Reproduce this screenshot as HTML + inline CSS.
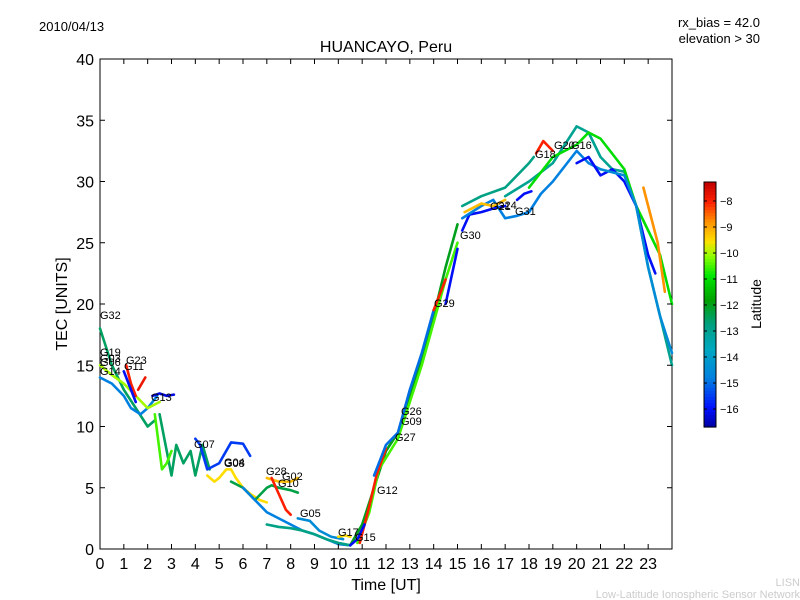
<!DOCTYPE html>
<html><head><meta charset="utf-8">
<style>
body{margin:0;background:#fff;}
svg{display:block;font-family:"Liberation Sans","DejaVu Sans",sans-serif;}
</style></head>
<body>
<svg id="chart" width="800" height="600" viewBox="0 0 800 600">
<rect width="800" height="600" fill="#fff"/>
<text x="39" y="31" font-size="13">2010/04/13</text>
<text x="760" y="27" font-size="13" text-anchor="end">rx_bias = 42.0</text>
<text x="760" y="43" font-size="13" text-anchor="end">elevation &gt; 30</text>
<text x="386" y="52" font-size="16" text-anchor="middle">HUANCAYO, Peru</text>
<g id="plot"></g>
<g id="axes"></g>
<text x="386" y="590" font-size="16" text-anchor="middle">Time [UT]</text>
<text transform="translate(67,304) rotate(-90)" font-size="16" text-anchor="middle">TEC [UNITS]</text>
<g id="cbar"></g>
<text transform="translate(761,304) rotate(-90)" font-size="14" text-anchor="middle">Latitude</text>
<text x="800" y="586" font-size="11" fill="#ccc" text-anchor="end">LISN</text>
<text x="800" y="598" font-size="11" fill="#ccc" text-anchor="end">Low-Latitude Ionospheric Sensor Network</text>
</svg>
<script>
const xTicks=[0,1,2,3,4,5,6,7,8,9,10,11,12,13,14,15,16,17,18,19,20,21,22,23];
const yTicks=[0,5,10,15,20,25,30,35,40];
const cbTicks=[-8,-9,-10,-11,-12,-13,-14,-15,-16];
const latMin=-16.69, latMax=-7.27;
const trackNames=["G32","G14","G19","G23","G11","G13","Gz1","Gy1","G07","G04","Gg1","G28","Gr1","Gc1","Gg2","G05","G17","Gg3","Gy2","G12","G15","G26","G29","Gb1","Gb2","Gc2","Go1","Gg4","G31","G18","Gg5","Gy3","Gb3","Go2","Gc3","Gr2"];
const trackTimes=[
[0,0.5,1,1.5,2,2.3],
[0,0.5,1,1.3,1.7,2,2.4],
[0,0.5,1,1.5,2,2.5],
[1.1,1.3,1.5],
[1,1.3,1.5],
[2.2,2.5,2.8,3.1],
[2.5,2.8,3,3.2,3.5,3.8,4,4.3,4.6],
[2.3,2.5,2.6,2.8,3],
[4,4.2,4.5,5,5.5,6,6.3],
[4.5,4.8,5,5.3,5.5,5.7,6,6.3,6.7,7],
[5.5,6,6.5,7,7.2,7.5,8,8.3],
[7,7.5,8,8.3],
[7.2,7.5,7.8,8],
[6,6.5,7,7.5,8,8.5,9,9.5,10,10.5],
[7,7.5,8,8.5,9,9.5,10,10.5],
[8.3,8.8,9.2,9.7,10.2],
[10,10.3,10.5],
[10.5,11,11.5,12,12.5,13,13.5,14,14.5,15],
[10.8,11.3,11.7,12.5,13,13.5,14,14.5,15],
[10.9,11.3,11.6,12],
[10.5,10.8,11.1],
[11.5,12,12.5,13,13.5,14],
[14,14.5],
[14.5,15],
[15.2,15.5,16,16.5,17],
[15.2,16,16.5,17,17.5,18,18.5,19,20,20.5,21],
[15.3,16,16.5,17],
[15.2,16,17,18,18.2],
[17.5,17.8,18.1],
[18.3,18.6,19],
[17,18,19,19.5,20,20.5,21,21.5,22,22.5,23,23.5,24],
[18,19,20,20.5,21,22,22.5,23,23.5,24],
[20,20.5,21,21.5,22,22.5,23,23.3],
[22.8,23,23.4,23.7],
[21,22,22.5,23,23.5,24],
[1.6,1.9]
];
const trackTec=[
[18,15,13,11.5,10,10.5],
[14,13.5,12.5,11.5,11,11.5,12.5],
[15,14.2,13.5,12.5,11.5,12],
[15,13.5,12.5],
[14.5,13,12],
[12.5,12.7,12.5,12.6],
[11,8,6,8.5,7,8,6,8.5,6.5],
[11,8,6.5,7,8],
[9,8.5,6.5,7,8.7,8.6,7.6],
[6,5.5,5.8,6.5,6.5,5.8,5,4.5,4,3.8],
[5.5,5,4,5,5.2,5,4.8,4.6],
[5.8,5.5,5.5,5.8],
[5.8,4.5,3.2,2.8],
[5,4,3,2.5,2,1.5,1.2,0.8,0.4,0.3],
[2,1.8,1.7,1.5,1.2,0.8,0.5,0.3],
[2.5,2.3,1.5,1,0.8],
[1,1.1,1],
[0.3,2,5,8,9.5,12.5,15.5,19,23,26.5],
[0.5,3,6.5,9,12,15,18.5,22,25],
[0.5,3.5,6,8.2],
[0.3,0.8,2],
[6,8.5,9.5,13,16,19.5],
[19.5,22],
[20,24.5],
[26,27.3,27.5,27.8,28],
[27,28,28.5,27,27.2,27.5,29,30,32.5,31.5,31],
[27.5,28.2,28,28.5],
[28,28.8,29.5,31.5,32],
[28.5,29,29.2],
[32.3,33.3,32.5],
[28.8,30,31.5,33,34.5,34,32,31,30.8,28,23,19,15],
[29.5,32,33,34,33.5,31,28,26,24,20],
[31.5,32,30.5,31,30,28,24,22.5],
[29.5,28,25,21],
[31,30.5,28,23,19,16],
[13,14]
];
const trackLat=[-12.5,-14.8,-10,-8,-16,-16.2,-12.5,-10.5,-15.5,-9.5,-12.3,-9.2,-8,-14.8,-12.8,-14.5,-9.5,-12,-10.5,-8,-16,-15,-8,-16,-16,-14.8,-9.2,-12.8,-16,-8,-13,-11,-16,-8.8,-14.5,-7.8];
const labelNames=["G32","G19","G03","G06","G14","G23","G11","G13","G07","G04","G08","G28","G02","G10","G05","G17","G15","G12","G26","G09","G27","G29","G30","G21","G24","G31","G18","G20","G16"];
const labelPos=[[100,319],[100,356],[100,362],[100,366],[100,375],[126,364],[124,370],[151,401],[194,448],[224,466],[224,467],[266,475],[282,480],[278,487],[300,517],[338,536],[355,541],[377,494],[401,415],[401,425],[395,441],[434,307],[460,239],[490,210],[496,209],[515,215],[535,158],[554,149],[571,149]];

const X0=100,X1=672,Y0=549,Y1=59;
const xs=t=>X0+(X1-X0)*t/24;
const ys=v=>Y0-(Y0-Y1)*v/40;
const NS="http://www.w3.org/2000/svg";
const cmStops=[0,0.08,0.2,0.32,0.42,0.52,0.62,0.7,0.76,0.84,0.92,1];
const cmCols=[[0,0,160],[0,16,255],[0,128,224],[0,168,192],[0,160,128],[0,160,0],[0,232,0],[144,255,0],[255,224,0],[255,144,0],[255,32,0],[192,0,0]];
function jet(f){f=Math.max(0,Math.min(1,f));
 let i=0;while(i<cmStops.length-2&&f>cmStops[i+1])i++;
 const a=(f-cmStops[i])/(cmStops[i+1]-cmStops[i]);
 const c=cmCols[i].map((v,k)=>Math.round(v+(cmCols[i+1][k]-v)*a));
 return `rgb(${c[0]},${c[1]},${c[2]})`;}
const latColor=l=>jet((l-latMin)/(latMax-latMin));
const plot=document.getElementById('plot');
const frame=document.createElementNS(NS,'rect');
frame.setAttribute('x',X0);frame.setAttribute('y',Y1);frame.setAttribute('width',X1-X0);frame.setAttribute('height',Y0-Y1);
frame.setAttribute('fill','#fff');frame.setAttribute('stroke','#000');


plot.appendChild(frame);
trackNames.forEach((n,i)=>{
 const p=document.createElementNS(NS,'polyline');
 p.setAttribute('points',trackTimes[i].map((t,j)=>xs(t)+','+ys(trackTec[i][j])).join(' '));
 p.setAttribute('fill','none');p.setAttribute('stroke',latColor(trackLat[i]));
 p.setAttribute('stroke-width','2.6');p.setAttribute('stroke-linejoin','round');p.setAttribute('stroke-linecap','round');
 
 
 plot.appendChild(p);
});
labelNames.forEach((n,i)=>{
 const t=document.createElementNS(NS,'text');
 t.setAttribute('x',labelPos[i][0]);t.setAttribute('y',labelPos[i][1]);t.setAttribute('font-size','11');
 t.textContent=n;
 
 
 plot.appendChild(t);
});
const axes=document.getElementById('axes');
xTicks.forEach(v=>{
 const x=xs(v);
 const l=document.createElementNS(NS,'path');
 l.setAttribute('d',`M${x},${Y0}v-5M${x},${Y1}v5`);l.setAttribute('stroke','#000');
 
 
 axes.appendChild(l);
 const t=document.createElementNS(NS,'text');
 t.setAttribute('x',x);t.setAttribute('y',Y0+20);t.setAttribute('font-size','16');t.setAttribute('text-anchor','middle');
 t.textContent=v;
 
 
 axes.appendChild(t);
});
yTicks.forEach(v=>{
 const y=ys(v);
 const l=document.createElementNS(NS,'path');
 l.setAttribute('d',`M${X0},${y}h5M${X1},${y}h-5`);l.setAttribute('stroke','#000');
 
 
 axes.appendChild(l);
 const t=document.createElementNS(NS,'text');
 t.setAttribute('x',X0-6);t.setAttribute('y',y+6);t.setAttribute('font-size','16');t.setAttribute('text-anchor','end');
 t.textContent=v;
 
 
 axes.appendChild(t);
});
const cb=document.getElementById('cbar');
const CY0=427,CY1=182,CX=704,CW=12;
for(let k=0;k<80;k++){
 const r=document.createElementNS(NS,'rect');
 const y=CY0-(k+1)*(CY0-CY1)/80;
 r.setAttribute('x',CX);r.setAttribute('y',y);r.setAttribute('width',CW);r.setAttribute('height',(CY0-CY1)/80+0.6);
 r.setAttribute('fill',jet((k+0.5)/80));
 
 
 cb.appendChild(r);
}
const cf=document.createElementNS(NS,'rect');
cf.setAttribute('x',CX);cf.setAttribute('y',CY1);cf.setAttribute('width',CW);cf.setAttribute('height',CY0-CY1);
cf.setAttribute('fill','none');cf.setAttribute('stroke','#000');


cb.appendChild(cf);
cbTicks.forEach(v=>{
 const y=CY0-(CY0-CY1)*(v-latMin)/(latMax-latMin);
 const l=document.createElementNS(NS,'path');
 l.setAttribute('d',`M${CX},${y}h3M${CX+CW},${y}h-3`);l.setAttribute('stroke','#000');
 
 
 cb.appendChild(l);
 const t=document.createElementNS(NS,'text');
 t.setAttribute('x',CX+CW+4);t.setAttribute('y',y+4);t.setAttribute('font-size','11');
 t.textContent='\u2212'+Math.abs(v);
 
 
 cb.appendChild(t);
});
</script>
</body></html>
